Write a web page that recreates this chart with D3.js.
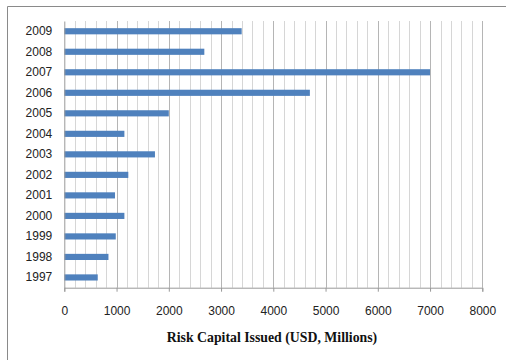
<!DOCTYPE html>
<html><head><meta charset="utf-8">
<script src="https://cdn.jsdelivr.net/npm/d3@7"></script>
<style>body{margin:0;background:#fff}svg{display:block}</style>
</head><body>
<svg id="c" width="506" height="360"></svg>
<script>
const years = ["1997","1998","1999","2000","2001","2002","2003","2004","2005","2006","2007","2008","2009"];
const values = [640, 845, 985, 1150, 970, 1225, 1735, 1150, 2000, 4700, 7000, 2680, 3395];
const xTicks = [0,1000,2000,3000,4000,5000,6000,7000,8000];
const xTitle = "Risk Capital Issued (USD, Millions)";

(function(){
const svg = d3.select("#c");
const pL = 64.3, pR = 482.3, pT = 21, pB = 287.7;

// chart border (top and left visible)
svg.append("line").attr("x1",7.5).attr("x2",506).attr("y1",6.5).attr("y2",6.5).attr("stroke","#8a8a8a").attr("stroke-width",1);
svg.append("line").attr("x1",7.5).attr("x2",7.5).attr("y1",6.5).attr("y2",360).attr("stroke","#8a8a8a").attr("stroke-width",1);

const x = d3.scaleLinear().domain([0,8000]).range([pL,pR]);
const y = d3.scaleBand().domain(years.slice().reverse()).range([pT,pB]).paddingInner(0.7).paddingOuter(0.35);

// minor gridlines every 200
const minor = d3.range(200, 8001, 200);
svg.append("g").selectAll("line").data(minor).join("line")
  .attr("x1",d=>Math.round(x(d))+0.5).attr("x2",d=>Math.round(x(d))+0.5)
  .attr("y1",pT).attr("y2",pB)
  .attr("stroke",d=>d%1000===0?"#b5b5b5":"#d6d6d6").attr("stroke-width",1);

// bars
svg.append("g").selectAll("rect").data(years).join("rect")
  .attr("x",x(0)).attr("y",(d)=>y(d))
  .attr("width",(d,i)=>x(values[i])-x(0)).attr("height",y.bandwidth())
  .attr("fill","#4f81bd");

// x axis
const xa = svg.append("g").attr("transform",`translate(0,${pB})`)
  .call(d3.axisBottom(x).tickValues(xTicks).tickSize(4).tickPadding(15).tickFormat(d3.format("d")));
xa.select(".domain").attr("stroke","#999");
xa.selectAll(".tick line").attr("stroke","#999");
xa.selectAll("text").attr("font-family","Liberation Sans, Arial, sans-serif").attr("font-size",12).attr("fill","#222");

// y axis labels
const ya = svg.append("g").attr("transform",`translate(${pL},0)`)
  .call(d3.axisLeft(y).tickSize(0).tickPadding(12));
ya.select(".domain").attr("stroke","#999");
ya.selectAll("text").attr("font-family","Liberation Sans, Arial, sans-serif").attr("font-size",12).attr("fill","#222");

// axis title
svg.append("text").attr("x",272).attr("y",342).attr("text-anchor","middle")
  .attr("font-family","Liberation Serif, Times New Roman, serif").attr("font-weight","bold").attr("font-size",13.8)
  .attr("fill","#111").text(xTitle);
})();
</script>
</body></html>
